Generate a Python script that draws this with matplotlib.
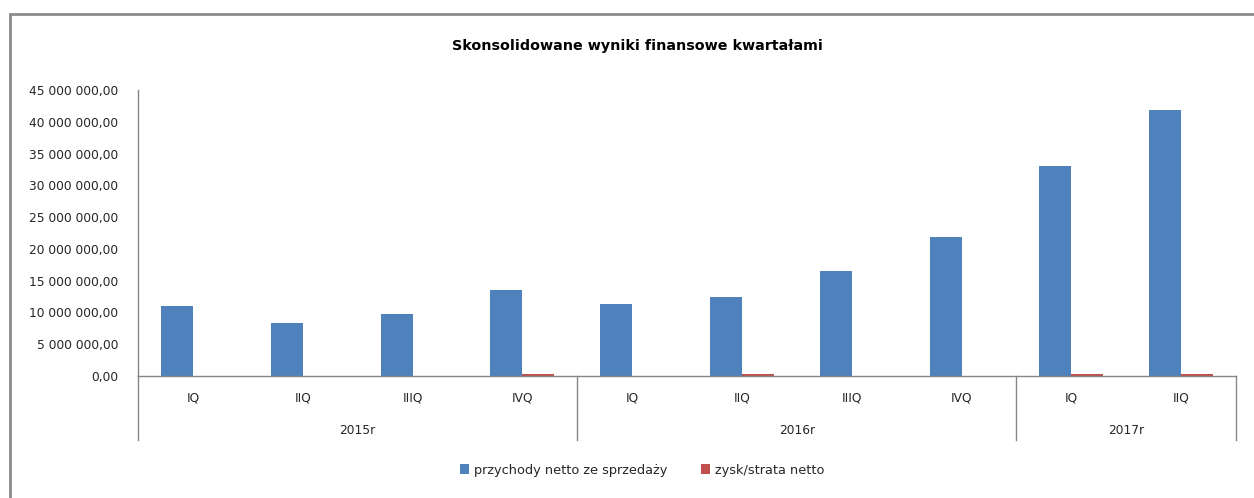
import matplotlib.pyplot as plt
from matplotlib.patches import Rectangle
from matplotlib.ticker import FuncFormatter, MultipleLocator

# chart data
quarters = ["IQ", "IIQ", "IIIQ", "IVQ", "IQ", "IIQ", "IIIQ", "IVQ", "IQ", "IIQ"]
years = ["2015r", "2016r", "2017r"]
quarters_per_year = [4, 4, 2]
revenue = [11050000, 8300000, 9700000, 13550000,
           11300000, 12400000, 16500000, 21900000,
           33100000, 41800000]
net_profit = [20000, 30000, 40000, 300000,
              40000, 280000, 60000, 50000,
              300000, 290000]

BLUE = "#4F81BD"
RED = "#C0504D"
AXIS_GREY = "#868686"
TEXT = "#262626"


def pl_format(v, pos):
    # polish style: space thousands separator, comma decimals
    return f"{v:,.2f}".replace(",", " ").replace(".", ",")


fig = plt.figure(figsize=(12.54, 4.98), dpi=100)

# outer chart frame (right/bottom edges fall outside the crop)
fig.patches.append(Rectangle((10 / 1254, -0.05), 1.1, 1 - 14 / 498 + 0.05,
                             transform=fig.transFigure, fill=False,
                             edgecolor="#8c8c8c", linewidth=2.0))

ax = fig.add_axes([138 / 1254, 1 - 376 / 498, (1236 - 138) / 1254, (376 - 90) / 498])

x = list(range(len(quarters)))
w = 0.29
ax.bar([i - w / 2 for i in x], revenue, width=w, color=BLUE,
       label="przychody netto ze sprzedaży")
ax.bar([i + w / 2 for i in x], net_profit, width=w, color=RED,
       label="zysk/strata netto")

ax.set_xlim(-0.5, len(quarters) - 0.5)
ax.set_ylim(0, 45000000)
ax.yaxis.set_major_locator(MultipleLocator(5000000))
ax.yaxis.set_major_formatter(FuncFormatter(pl_format))
ax.tick_params(axis="y", length=0, pad=14, labelsize=8.8, labelcolor=TEXT)

ax.set_xticks(x)
ax.set_xticklabels(quarters)
ax.tick_params(axis="x", length=0, pad=11, labelsize=8.8, labelcolor=TEXT)

for side in ["top", "right"]:
    ax.spines[side].set_visible(False)
for side in ["left", "bottom"]:
    ax.spines[side].set_color(AXIS_GREY)
    ax.spines[side].set_linewidth(1.0)

# second level of the category axis: year separators and labels
trans = ax.get_xaxis_transform()
sep_bottom = -(440 - 376) / 286
start = -0.5
ax.plot([start, start], [0, sep_bottom], transform=trans, color=AXIS_GREY,
        linewidth=1.0, clip_on=False)
for year, n in zip(years, quarters_per_year):
    end = start + n
    ax.plot([end, end], [0, sep_bottom], transform=trans, color=AXIS_GREY,
            linewidth=1.0, clip_on=False)
    ax.text((start + end) / 2, -(431 - 376) / 286, year, transform=trans,
            ha="center", va="center", fontsize=8.8, color=TEXT)
    start = end

fig.text(637 / 1254, 1 - 46 / 498, "Skonsolidowane wyniki finansowe kwartałami",
         ha="center", va="center", fontsize=10.3, fontweight="bold", color="black")

fig.legend(loc="center", bbox_to_anchor=(642 / 1254, 1 - 470 / 498), ncol=2,
           frameon=False, fontsize=9.3, handlelength=0.7, handleheight=0.7,
           handletextpad=0.4, columnspacing=2.6, labelcolor=TEXT)

fig.savefig("out.png", dpi=100)
